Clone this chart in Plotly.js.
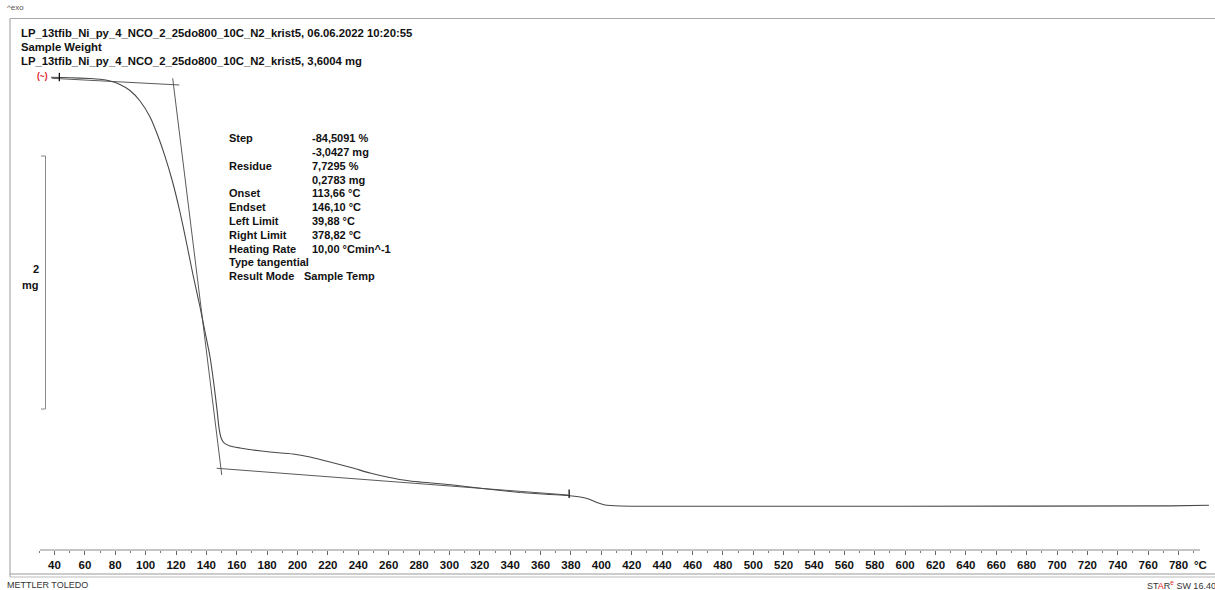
<!DOCTYPE html>
<html>
<head>
<meta charset="utf-8">
<script src="https://cdn.plot.ly/plotly-3.0.1.min.js"></script>
<style>
  html, body { margin: 0; padding: 0; background: #fff; }
  #chart { width: 1215px; height: 590px; }
</style>
</head>
<body>
<div id="chart"></div>
<script>
// ---------- data (temperature in °C, sample weight in mg) ----------
const temperature = [37.7, 50.2, 63.4, 70.0, 76.5, 83.1, 89.7, 96.3, 102.9, 108.1, 112.7, 117.4, 122.6, 127.2, 131.2, 135.8, 139.1, 142.4, 145.0, 147.0, 148.3, 149.7, 151.6, 155.5, 162.1, 170.7, 181.9, 197.0, 208.2, 221.4, 236.5, 247.7, 258.9, 274.1, 302.4, 324.7, 346.5, 366.2, 377.4, 387.9, 392.5, 397.1, 402.4, 412.3, 464.9, 596.6, 774.4, 800.0];
const sampleWeight = [3.598, 3.594, 3.588, 3.582, 3.569, 3.541, 3.493, 3.410, 3.283, 3.132, 2.973, 2.783, 2.529, 2.267, 2.029, 1.775, 1.577, 1.378, 1.156, 0.958, 0.815, 0.735, 0.696, 0.672, 0.656, 0.640, 0.624, 0.608, 0.584, 0.545, 0.497, 0.457, 0.426, 0.394, 0.362, 0.330, 0.303, 0.287, 0.279, 0.263, 0.247, 0.223, 0.204, 0.196, 0.194, 0.194, 0.197, 0.202];

// tangent constructions of the step evaluation
const upperTangentT = [38.2, 122.2];
const upperTangentMg = [3.590, 3.537];
const steepTangentT = [117.8, 150.1];
const steepTangentMg = [3.590, 0.442];
const lowerTangentT = [146.8, 378.2];
const lowerTangentMg = [0.495, 0.283];

// evaluation limit markers
const limitT = [43.2, 378.8];
const limitMg = [3.600, 0.293];

// tick labels
const tickValues = [];
for (let t = 40; t <= 780; t += 20) tickValues.push(t);
const tickLabels = tickValues.map(t => '<b>' + t + '</b>');
const minorTickValues = [];
for (let t = 30; t <= 790; t += 10) minorTickValues.push(t);

// texts
const headerLines = [
  'LP_13tfib_Ni_py_4_NCO_2_25do800_10C_N2_krist5, 06.06.2022 10:20:55',
  'Sample Weight',
  'LP_13tfib_Ni_py_4_NCO_2_25do800_10C_N2_krist5, 3,6004 mg'
];
const resultLabels = ['Step', '', 'Residue', '', 'Onset', 'Endset', 'Left Limit', 'Right Limit', 'Heating Rate', 'Type tangential', 'Result Mode'];
const resultValues = ['-84,5091 %', '-3,0427 mg', '7,7295 %', '0,2783 mg', '113,66 °C', '146,10 °C', '39,88 °C', '378,82 °C', '10,00 °Cmin^-1', '', 'Sample Temp'];

// ---------- layout geometry (pixels) ----------
const W = 1215, H = 590;
const M = { l: 10, r: 2, t: 18, b: 40 };
const pw = W - M.l - M.r, ph = H - M.t - M.b;
const pxPerDeg = 1.519, x40 = 54.5;        // pixel of 40 °C
const pxPerMg = 126, yStart = 77;          // pixel of initial mass
const initialMass = 3.6004;
const tAt = px => 40 + (px - x40) / pxPerDeg;
const mgAt = py => initialMass - (py - yStart) / pxPerMg;
const PX = px => (px - M.l) / pw;          // pixel -> paper x
const PY = py => (M.t + ph - py) / ph;     // pixel -> paper y

const FONT = 'Liberation Sans, Arial, sans-serif';
const gray = '#8a8a8a';

const traces = [
  { x: upperTangentT, y: upperTangentMg, mode: 'lines', line: { color: '#5a5a5a', width: 1 }, hoverinfo: 'skip' },
  { x: steepTangentT, y: steepTangentMg, mode: 'lines', line: { color: '#5a5a5a', width: 1 }, hoverinfo: 'skip' },
  { x: lowerTangentT, y: lowerTangentMg, mode: 'lines', line: { color: '#5a5a5a', width: 1 }, hoverinfo: 'skip' },
  { x: temperature, y: sampleWeight, mode: 'lines', line: { color: '#484848', width: 1.1, shape: 'spline', smoothing: 0.5 }, hoverinfo: 'x+y' },
  { x: limitT, y: limitMg, mode: 'markers', marker: { symbol: 'line-ns', size: 6, line: { color: '#111', width: 1.3 } }, hoverinfo: 'skip' }
];

const annotations = [];
function addText(text, x, y, size, opts = {}) {
  annotations.push(Object.assign({
    xref: 'paper', yref: 'paper', x: PX(x), y: PY(y), text: text, showarrow: false,
    xanchor: 'left', yanchor: 'middle', borderpad: 0, borderwidth: 0,
    font: { family: FONT, size: size, color: '#111' }
  }, opts));
}
addText('^exo', 7, 8, 8, { font: { family: FONT, size: 8, color: '#555' } });
const headerY = [33.3, 46.7, 61];
headerLines.forEach((s, i) => addText('<b>' + s + '</b>', 21, headerY[i], 11.3));
resultLabels.forEach((s, i) => { if (s) addText('<b>' + s + '</b>', 229, 138.3 + i * 13.78, 11); });
resultValues.forEach((s, i) => { if (s) addText('<b>' + s + '</b>', i === 10 ? 303.5 : 312, 138.3 + i * 13.78, 11); });
addText('<b>2</b>', 39, 269, 11, { xanchor: 'right' });
addText('<b>mg</b>', 39, 285, 11, { xanchor: 'right' });
addText('<b>(~)</b>', 37, 76, 8.5, { font: { family: FONT, size: 8.5, color: '#e0201c' } });
addText('<b>°C</b>', 1194, 564.5, 11.5);
addText('METTLER TOLEDO', 7, 585, 9, { font: { family: FONT, size: 9, color: '#333' } });
addText('ST<span style="color:#e0201c">A</span>R<sup><span style="color:#e0201c">e</span></sup> SW 16.40', 1216, 585, 9,
  { xanchor: 'right', font: { family: FONT, size: 9, color: '#333' } });

const shapes = [
  // frame
  { type: 'line', xref: 'paper', yref: 'paper', x0: PX(10), x1: PX(1215), y0: PY(18.5), y1: PY(18.5), line: { color: '#aaa', width: 1.2 } },
  { type: 'line', xref: 'paper', yref: 'paper', x0: PX(10), x1: PX(10), y0: PY(18.5), y1: PY(577), line: { color: '#aaa', width: 1.2 } },
  { type: 'line', xref: 'paper', yref: 'paper', x0: PX(10), x1: PX(1215), y0: PY(574), y1: PY(574), line: { color: '#999', width: 1.2 } },
  { type: 'line', xref: 'paper', yref: 'paper', x0: PX(10), x1: PX(1215), y0: PY(577), y1: PY(577), line: { color: '#bbb', width: 1.2 } },
  // temperature axis line
  { type: 'line', xref: 'paper', yref: 'paper', x0: PX(40), x1: PX(1200), y0: 0, y1: 0, line: { color: gray, width: 1 } },
  // 2 mg scale bar
  { type: 'line', xref: 'paper', yref: 'paper', x0: PX(45.5), x1: PX(45.5), y0: PY(156), y1: PY(409), line: { color: gray, width: 1 } },
  { type: 'line', xref: 'paper', yref: 'paper', x0: PX(41), x1: PX(45.5), y0: PY(156), y1: PY(156), line: { color: gray, width: 1 } },
  { type: 'line', xref: 'paper', yref: 'paper', x0: PX(41), x1: PX(45.5), y0: PY(409), y1: PY(409), line: { color: gray, width: 1 } }
];

const layout = {
  width: W, height: H,
  margin: M,
  paper_bgcolor: '#fff', plot_bgcolor: '#fff',
  showlegend: false,
  xaxis: {
    range: [tAt(M.l), tAt(W - M.r)],
    tickmode: 'array', tickvals: tickValues, ticktext: tickLabels,
    ticks: 'outside', ticklen: 4, tickcolor: '#666', tickwidth: 1,
    minor: { tickmode: 'array', tickvals: minorTickValues, ticks: 'outside', ticklen: 2, tickcolor: '#777', showgrid: false },
    showline: false, showgrid: false, zeroline: false, automargin: false,
    tickfont: { family: FONT, size: 11.5, color: '#111' }
  },
  yaxis: {
    range: [mgAt(M.t + ph), mgAt(M.t)],
    visible: false, showgrid: false, zeroline: false, automargin: false
  },
  shapes: shapes,
  annotations: annotations
};

Plotly.newPlot('chart', traces, layout, { staticPlot: true, displayModeBar: false });
</script>
</body>
</html>
